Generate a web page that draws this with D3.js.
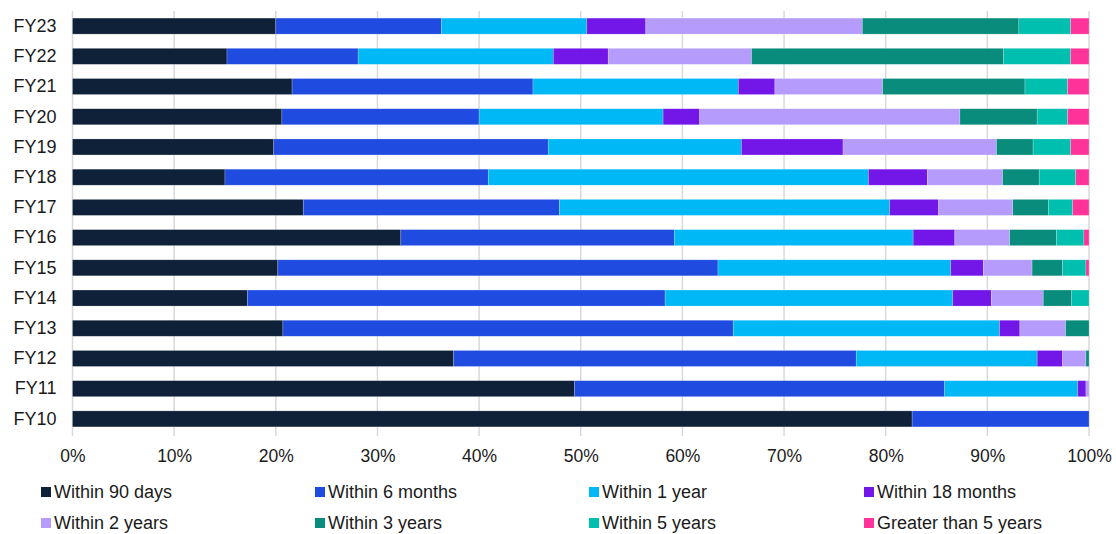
<!DOCTYPE html>
<html>
<head>
<meta charset="utf-8">
<script src="https://cdn.jsdelivr.net/npm/d3@7"></script>
<style>
  html, body { margin: 0; padding: 0; background: #fff; }
  svg { display: block; font-family: "Liberation Sans", Arial, sans-serif; }
</style>
</head>
<body>
<svg id="chart" width="1116" height="534"></svg>
<script>
// ── Data ─────────────────────────────────────────────────────────────────────

const years = ['FY23', 'FY22', 'FY21', 'FY20', 'FY19', 'FY18', 'FY17',
               'FY16', 'FY15', 'FY14', 'FY13', 'FY12', 'FY11', 'FY10'];

const seriesNames = ['Within 90 days', 'Within 6 months', 'Within 1 year', 'Within 18 months',
                     'Within 2 years', 'Within 3 years', 'Within 5 years', 'Greater than 5 years'];

const seriesColors = ['#0f2139', '#1f4be0', '#00b8f5', '#7316e8',
                      '#b59cfc', '#0a8c7c', '#00bfae', '#ff3399'];

// % share per bucket, one array per year (same order as years)
const within90d  = [20.0, 15.2, 21.6, 20.6, 19.8, 15.0, 22.7, 32.3, 20.2, 17.2, 20.7, 37.5, 49.4, 82.6];
const within6m   = [16.3, 12.9, 23.7, 19.4, 27.0, 25.9, 25.2, 26.9, 43.3, 41.1, 44.3, 39.6, 36.4, 17.4];
const within1y   = [14.3, 19.2, 20.2, 18.1, 19.0, 37.4, 32.5, 23.5, 22.9, 28.3, 26.2, 17.8, 13.1, 0];
const within18m  = [ 5.8,  5.4,  3.6,  3.6, 10.0,  5.8,  4.8,  4.1,  3.2,  3.8,  2.0,  2.5,  0.8, 0];
const within2y   = [21.3, 14.1, 10.6, 25.6, 15.1,  7.4,  7.3,  5.4,  4.8,  5.1,  4.5,  2.3,  0.3, 0];
const within3y   = [15.4, 24.8, 14.0,  7.6,  3.6,  3.6,  3.5,  4.6,  3.0,  2.8,  2.3,  0.3,  0,   0];
const within5y   = [ 5.1,  6.6,  4.2,  3.0,  3.7,  3.6,  2.4,  2.7,  2.3,  1.7,  0,    0,    0,   0];
const over5y     = [ 1.8,  1.8,  2.1,  2.1,  1.8,  1.3,  1.6,  0.5,  0.3,  0,    0,    0,    0,   0];

const seriesValues = [within90d, within6m, within1y, within18m, within2y, within3y, within5y, over5y];

const xTicks = [0, 10, 20, 30, 40, 50, 60, 70, 80, 90, 100];

// ── Layout ───────────────────────────────────────────────────────────────────

const margin = { top: 11, left: 72.5, right: 27, bottom: 100 };
const W = 1116, H = 534;
const innerW = W - margin.left - margin.right;
const FONT = '"Liberation Sans", Arial, sans-serif';

const svg = d3.select('#chart');

const x = d3.scaleLinear().domain([0, 100]).range([margin.left, margin.left + innerW]);
const y = d3.scaleBand().domain(years).range([margin.top, 434]).paddingInner(0.47).paddingOuter(0.235);

// table for stacking
const table = years.map((yr, i) => {
  const row = { year: yr };
  seriesNames.forEach((s, k) => { row[s] = seriesValues[k][i]; });
  return row;
});
const stacked = d3.stack().keys(seriesNames)(table);
const color = d3.scaleOrdinal().domain(seriesNames).range(seriesColors);

// ── Grid ─────────────────────────────────────────────────────────────────────

svg.append('g')
  .selectAll('line')
  .data(xTicks)
  .join('line')
  .attr('x1', d => x(d)).attr('x2', d => x(d))
  .attr('y1', margin.top).attr('y2', 436)
  .attr('stroke', '#d9d9d9')
  .attr('stroke-width', 1.5);

// ── Bars ─────────────────────────────────────────────────────────────────────

svg.append('g')
  .selectAll('g')
  .data(stacked)
  .join('g')
  .attr('fill', d => color(d.key))
  .selectAll('rect')
  .data(d => d.filter(p => p[1] - p[0] > 0))
  .join('rect')
  .attr('x', d => x(d[0]))
  .attr('y', d => y(d.data.year))
  .attr('width', d => x(d[1]) - x(d[0]))
  .attr('height', y.bandwidth())
  .attr('stroke', 'rgba(255,255,255,0.35)')
  .attr('stroke-width', 0.6);

// ── Axes ─────────────────────────────────────────────────────────────────────

const xAxis = svg.append('g')
  .attr('transform', 'translate(0,436)')
  .call(d3.axisBottom(x).tickValues(xTicks).tickFormat(d => d + '%').tickSize(0).tickPadding(14));
xAxis.select('.domain').remove();
xAxis.selectAll('text').attr('font-size', 17.5).attr('fill', '#1a1a1a').attr('font-family', FONT);

const yAxis = svg.append('g')
  .attr('transform', `translate(${margin.left - 16},0)`)
  .call(d3.axisLeft(y).tickSize(0).tickPadding(0));
yAxis.select('.domain').remove();
yAxis.selectAll('text').attr('font-size', 18).attr('fill', '#1a1a1a').attr('font-family', FONT);

// ── Legend ───────────────────────────────────────────────────────────────────

const legendCols = [41, 315, 589, 864];
const legendRows = [492, 523];

const legend = svg.append('g')
  .selectAll('g')
  .data(seriesNames)
  .join('g')
  .attr('transform', (d, i) => `translate(${legendCols[i % 4]},${legendRows[Math.floor(i / 4)]})`);

legend.append('rect')
  .attr('x', 0).attr('y', -5)
  .attr('width', 10).attr('height', 10)
  .attr('fill', d => color(d));

legend.append('text')
  .attr('x', 13).attr('y', 0)
  .attr('dy', '0.35em')
  .attr('font-size', 18)
  .attr('font-family', FONT)
  .attr('fill', '#1a1a1a')
  .text(d => d);
</script>
</body>
</html>
